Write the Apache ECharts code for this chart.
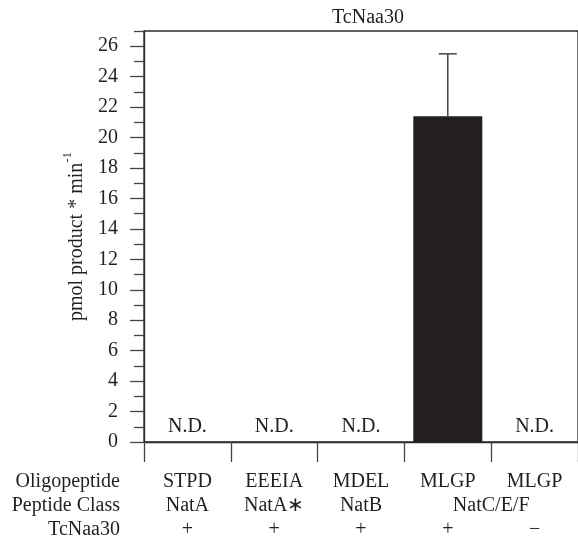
<!DOCTYPE html>
<html>
<head>
<meta charset="utf-8">
<script src="https://cdn.jsdelivr.net/npm/echarts@6/dist/echarts.min.js"></script>
<style>
html,body{margin:0;padding:0;background:#fff;}
#c{width:578px;height:547px;}
</style>
</head>
<body>
<div id="c"></div>
<script>
// ---- data ----
const oligopeptides = ['STPD', 'EEEIA', 'MDEL', 'MLGP', 'MLGP'];
const peptideClasses = ['NatA', 'NatA\u2217', 'NatB', 'NatC/E/F'];
const peptideClassPos = [0.5, 1.5, 2.5, 4];      // NatC/E/F spans the last two columns
const enzymePresent = ['+', '+', '+', '+', '\u2212'];
const activity = [0, 0, 0, 21.4, 0];
const activityErr = [0, 0, 0, 4.1, 0];
const detected = [false, false, false, true, false];
const yMajorTicks = [0, 2, 4, 6, 8, 10, 12, 14, 16, 18, 20, 22, 24, 26];
const yMinorTicks = [1, 3, 5, 7, 9, 11, 13, 15, 17, 19, 21, 23, 25, 27];
const rowHeaders = ['Oligopeptide', 'Peptide Class', 'TcNaa30'];

const FONT = 'Liberation Serif';
const TXT = '#231f20';
const AX = '#2b2b2b';
const FS = 20;

const rowAxis = (offset) => ({
  position: 'bottom', offset: offset,
  axisLine: { show: false, onZero: false }, axisTick: { show: false }, splitLine: { show: false },
  nameLocation: 'start', nameGap: 24, nameMoveOverlap: false,
  nameTextStyle: { fontFamily: FONT, fontSize: FS, color: TXT, align: 'right', verticalAlign: 'middle' }
});

const chart = echarts.init(document.getElementById('c'));
const option = {
  animation: false,
  backgroundColor: '#fff',
  textStyle: { fontFamily: FONT, color: TXT },
  title: {
    text: 'TcNaa30',
    left: 363, top: 3, textAlign: 'center',
    textStyle: { fontFamily: FONT, fontWeight: 'normal', fontSize: FS, color: TXT }
  },
  grid: {
    left: 144, right: -3.5, top: 31, bottom: 105,
    show: true, borderColor: AX, borderWidth: 1.3, backgroundColor: 'transparent'
  },
  xAxis: [
    {
      type: 'category', data: oligopeptides, position: 'bottom',
      axisLine: { onZero: false, lineStyle: { color: AX, width: 1.3 } },
      axisTick: { show: true, length: 20, lineStyle: { color: '#444', width: 1.3 } },
      axisLabel: { show: false },
      splitLine: { show: false }
    },
    Object.assign(rowAxis(40), {
      type: 'category', data: oligopeptides, name: rowHeaders[0],
      axisLabel: { margin: 0, verticalAlign: 'middle', fontFamily: FONT, fontSize: FS, color: TXT }
    }),
    Object.assign(rowAxis(64), {
      type: 'value', min: 0, max: 5, name: rowHeaders[1],
      axisLabel: {
        margin: 0, verticalAlign: 'middle', fontFamily: FONT, fontSize: FS, color: TXT,
        customValues: peptideClassPos,
        formatter: v => { const i = peptideClassPos.indexOf(v); return i >= 0 ? peptideClasses[i] : ''; }
      }
    }),
    Object.assign(rowAxis(88), {
      type: 'category', data: enzymePresent, name: rowHeaders[2],
      axisLabel: { margin: 0, verticalAlign: 'middle', fontFamily: FONT, fontSize: FS, color: TXT }
    })
  ],
  yAxis: [
    {
      type: 'value', min: 0, max: 27,
      axisLine: { show: true, onZero: false, lineStyle: { color: AX, width: 1.3 } },
      axisTick: { show: true, length: 14, customValues: yMajorTicks, lineStyle: { color: '#444', width: 1.3 } },
      axisLabel: { customValues: yMajorTicks, margin: 26, fontFamily: FONT, fontSize: FS, color: TXT },
      splitLine: { show: false },
      name: '{m|pmol product * min}{s|-1}',
      nameLocation: 'middle', nameGap: 52, nameRotate: 90,
      nameTextStyle: {
        fontFamily: FONT, fontSize: FS, color: TXT,
        rich: {
          m: { fontFamily: FONT, fontSize: FS, color: TXT, lineHeight: 26, verticalAlign: 'bottom' },
          s: { fontFamily: FONT, fontSize: 13, color: TXT, lineHeight: 26, verticalAlign: 'top' }
        }
      }
    },
    {
      type: 'value', min: 0, max: 27, position: 'left',
      axisLine: { show: false, onZero: false },
      axisTick: { show: true, length: 10, customValues: yMinorTicks, lineStyle: { color: '#444', width: 1.3 } },
      axisLabel: { show: false },
      splitLine: { show: false }
    }
  ],
  series: [
    {
      type: 'bar', xAxisIndex: 0, yAxisIndex: 0,
      data: activity, barWidth: 69,
      itemStyle: { color: '#231f20' },
      label: {
        show: true, position: 'top', distance: 5,
        fontFamily: FONT, fontSize: FS, color: TXT,
        formatter: p => detected[p.dataIndex] ? '' : 'N.D.'
      }
    },
    {
      type: 'custom', xAxisIndex: 0, yAxisIndex: 0,
      data: activity.map((v, i) => [i, v, v + activityErr[i]]),
      renderItem: (params, api) => {
        const i = api.value(0);
        if (!(activityErr[i] > 0)) return null;
        const p0 = api.coord([i, api.value(1)]);
        const p1 = api.coord([i, api.value(2)]);
        const hw = 9;
        const st = { stroke: '#444', lineWidth: 1.5 };
        return {
          type: 'group',
          children: [
            { type: 'line', shape: { x1: p0[0], y1: p0[1], x2: p1[0], y2: p1[1] }, style: st },
            { type: 'line', shape: { x1: p1[0] - hw, y1: p1[1], x2: p1[0] + hw, y2: p1[1] }, style: st }
          ]
        };
      },
      z: 5
    }
  ]
};
chart.setOption(option);
</script>
</body>
</html>
